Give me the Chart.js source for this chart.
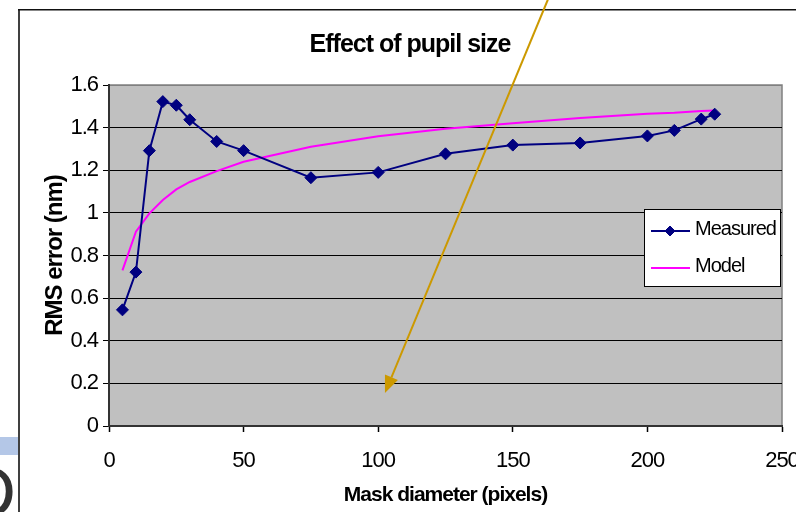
<!DOCTYPE html>
<html>
<head>
<meta charset="utf-8">
<title>Effect of pupil size</title>
<script src="https://cdn.jsdelivr.net/npm/chart.js@4.4.1/dist/chart.umd.min.js"></script>
<style>
	html, body { margin: 0; padding: 0; background: #ffffff; }
	canvas { display: block; }
</style>
</head>
<body>
<canvas id="chart" width="796" height="512"></canvas>
<script>
// mask diameter (pixels) for every measurement
const maskDiameter = [ 5, 10, 15, 20, 25, 30, 40, 50, 75, 100, 125, 150, 175, 200, 210, 220, 225 ];

// RMS error (nm)
const measured = [ 0.545, 0.722, 1.292, 1.522, 1.505, 1.437, 1.335, 1.292, 1.165, 1.19, 1.277, 1.318, 1.328, 1.361, 1.387, 1.44, 1.463 ];
const model = [ 0.73, 0.912, 0.998, 1.06, 1.11, 1.145, 1.196, 1.24, 1.31, 1.36, 1.395, 1.42, 1.445, 1.465, 1.47, 1.478, 1.48 ];

// axis ranges
const xTicks = { min: 0, max: 250, step: 50 };
const yTicks = { min: 0, max: 1.6, step: 0.2 };

// pointer arrow, in axis units (tail, head)
const arrowFrom = [ 163, 2.0 ];
const arrowTo = [ 102.5, 0.155 ];

const FONT = '"Liberation Sans", Arial, sans-serif';

Chart.defaults.font.family = FONT;
Chart.defaults.color = "#000000";

const toPoints = ( values ) => maskDiameter.map( ( d, i ) => ( { x: d, y: values[ i ] } ) );

// Excel-ish text is drawn a little condensed
const tightText = {
	id: "tightText"
	, beforeUpdate( chart ) { chart.ctx.letterSpacing = "-1px"; }
	, beforeDraw( chart ) { chart.ctx.letterSpacing = "-1px"; }
};

// slide behind the chart, chart frame and grey plot area
const sheet = {
	id: "sheet"
	, beforeDraw( chart ) {
		const { ctx, chartArea: a, width, height } = chart;
		ctx.save();
		ctx.fillStyle = "#ffffff";
		ctx.fillRect( 0, 0, width, height );

		ctx.fillStyle = "#b4c7e7";
		ctx.fillRect( 0, 437, 19, 18 );
		ctx.beginPath();
		ctx.rect( 0, 0, 18, height );
		ctx.clip();
		ctx.fillStyle = "#333333";
		ctx.font = "72px " + FONT;
		ctx.fillText( "D", -36, 517 );
		ctx.restore();

		ctx.save();
		ctx.fillStyle = "#404040";
		ctx.fillRect( 18, 9, 2, height - 9 );
		ctx.fillStyle = "#111111";
		ctx.fillRect( 18, 9, width - 18, 1.5 );

		ctx.fillStyle = "#c0c0c0";
		ctx.fillRect( a.left, a.top, a.right - a.left, a.bottom - a.top );
		ctx.strokeStyle = "#808080";
		ctx.lineWidth = 1.5;
		ctx.strokeRect( a.left, a.top, a.right - a.left, a.bottom - a.top );
		ctx.restore();
	}
};

// boxed legend sitting inside the plot area
const legendBox = {
	id: "legendBox"
	, afterDatasetsDraw( chart ) {
		const { ctx, chartArea } = chart;
		const w = 137, h = 78;
		const left = chartArea.right - w - 1;
		const top = chartArea.top + 124;

		ctx.save();
		ctx.fillStyle = "#ffffff";
		ctx.fillRect( left, top, w, h );
		ctx.strokeStyle = "#000000";
		ctx.lineWidth = 1;
		ctx.strokeRect( left + 0.5, top + 0.5, w - 1, h - 1 );

		ctx.font = "20px " + FONT;
		ctx.textBaseline = "middle";
		chart.data.datasets.forEach( ( ds, i ) => {
			const y = top + 22 + i * 37;
			ctx.strokeStyle = ds.borderColor;
			ctx.lineWidth = ds.borderWidth;
			ctx.beginPath();
			ctx.moveTo( left + 7, y );
			ctx.lineTo( left + 46, y );
			ctx.stroke();
			if ( ds.pointRadius > 0 ) {
				ctx.fillStyle = ds.pointBackgroundColor;
				ctx.lineWidth = 1;
				Chart.helpers.drawPoint( ctx, { pointStyle: ds.pointStyle, radius: 5, borderWidth: 1, rotation: 0 }, left + 26, y );
			}
			ctx.fillStyle = "#000000";
			ctx.fillText( ds.label, left + 51, y - 2 );
		} );
		ctx.restore();
	}
};

// gold pointer arrow drawn over the chart
const pointer = {
	id: "pointer"
	, afterDraw( chart ) {
		const { ctx, scales: { x, y } } = chart;
		const x0 = x.getPixelForValue( arrowFrom[ 0 ] ), y0 = y.getPixelForValue( arrowFrom[ 1 ] );
		const x1 = x.getPixelForValue( arrowTo[ 0 ] ), y1 = y.getPixelForValue( arrowTo[ 1 ] );
		const len = Math.hypot( x1 - x0, y1 - y0 );
		const ux = ( x1 - x0 ) / len, uy = ( y1 - y0 ) / len;
		const headLen = 17, headHalf = 7;
		const bx = x1 - ux * headLen, by = y1 - uy * headLen;

		ctx.save();
		ctx.strokeStyle = "#cc9900";
		ctx.fillStyle = "#cc9900";
		ctx.lineWidth = 2;
		ctx.beginPath();
		ctx.moveTo( x0, y0 );
		ctx.lineTo( bx, by );
		ctx.stroke();
		ctx.beginPath();
		ctx.moveTo( x1, y1 );
		ctx.lineTo( bx - uy * headHalf, by + ux * headHalf );
		ctx.lineTo( bx + uy * headHalf, by - ux * headHalf );
		ctx.closePath();
		ctx.fill();
		ctx.restore();
	}
};

new Chart( document.getElementById( "chart" ), {
	  type: "line"
	, data: {
		datasets: [
			{
				  label: "Measured"
				, data: toPoints( measured )
				, borderColor: "#000080"
				, backgroundColor: "#000080"
				, borderWidth: 2
				, pointStyle: "rectRot"
				, pointRadius: 6
				, pointBackgroundColor: "#000080"
				, pointBorderColor: "#000080"
				, pointBorderWidth: 1
				, tension: 0
			}
			, {
				  label: "Model"
				, data: toPoints( model )
				, borderColor: "#ff00ff"
				, backgroundColor: "#ff00ff"
				, borderWidth: 2
				, pointRadius: 0
				, tension: 0
			}
		]
	}
	, options: {
		  responsive: false
		, animation: false
		, devicePixelRatio: 1
		, layout: { padding: { left: 38, right: 14, top: 0, bottom: 0 } }
		, plugins: {
			  legend: { display: false }
			, tooltip: { enabled: false }
			, title: {
				  display: true
				, text: "Effect of pupil size"
				, color: "#000000"
				, font: { size: 25, weight: "bold" }
				, padding: { top: 30, bottom: 25 }
			}
		}
		, scales: {
			x: {
				  type: "linear"
				, min: xTicks.min
				, max: xTicks.max
				, ticks: { stepSize: xTicks.step, font: { size: 22 }, padding: 16, maxRotation: 0 }
				, grid: { drawOnChartArea: false, drawTicks: true, tickLength: 6, tickColor: "#000000", tickWidth: 1.5 }
				, border: { color: "#333333", width: 2 }
				, title: {
					  display: true
					, text: "Mask diameter (pixels)"
					, font: { size: 21, weight: "bold" }
					, padding: { top: 0, bottom: 4 }
				}
				, afterFit( scale ) {
					scale.height = 86;
					scale.paddingLeft = 0;
					scale.paddingRight = 0;
				}
			}
			, y: {
				  min: yTicks.min
				, max: yTicks.max
				, ticks: {
					  stepSize: yTicks.step
					, font: { size: 22 }
					, padding: 5
					, callback: ( v ) => String( +v.toFixed( 1 ) )
				}
				, grid: {
					  color: ( c ) => c.tick && Math.abs( c.tick.value - yTicks.max ) < 1e-9 ? "#808080" : "#000000"
					, lineWidth: 1
					, tickLength: 6
					, tickColor: "#000000"
				}
				, border: { color: "#333333", width: 2 }
				, title: {
					  display: true
					, text: "RMS error (nm)"
					, font: { size: 24, weight: "bold" }
					, padding: { top: 3, bottom: 0 }
				}
				, afterFit( scale ) {
					scale.width = 71;
					scale.paddingTop = 0;
					scale.paddingBottom = 0;
				}
			}
		}
	}
	, plugins: [ tightText, sheet, legendBox, pointer ]
} );
</script>
</body>
</html>
